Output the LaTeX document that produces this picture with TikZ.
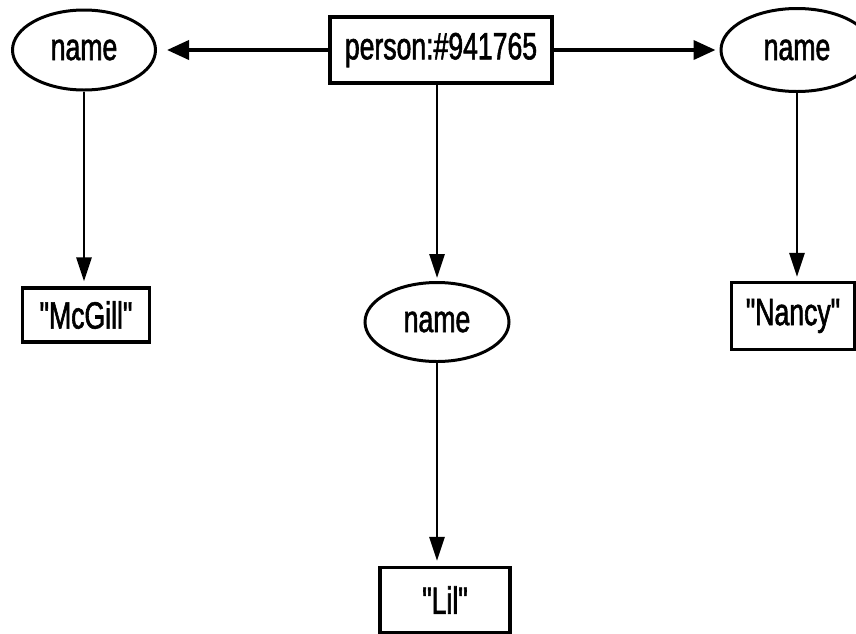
\documentclass[tikz,border=0pt]{standalone}
\usepackage{fontspec}
\usetikzlibrary{shapes.geometric,arrows.meta}
\newfontfamily\labelfont{Liberation Sans}[FakeStretch=0.7,FakeBold=1.5]
\begin{document}
\begin{tikzpicture}[x=1pt,y=-1pt,
  every node/.style={font=\labelfont\fontsize{38}{40}\selectfont, inner sep=0pt},
  valbox/.style={draw, line width=3.2pt, rectangle},
  attr/.style={draw, line width=3pt, ellipse},
  link/.style={line width=2.8pt, -{Triangle[length=24pt,width=15pt]}},
  hlink/.style={line width=3.8pt, -{Triangle[length=22pt,width=19pt]}}]
\useasboundingbox (0,0) rectangle (856,633);
\clip (0,0) rectangle (856,633);

% object node and its attribute ellipses
\node[valbox, minimum width=222pt, minimum height=66pt] (p) at (441,50) {person:\#941765};
\node[attr, minimum width=143pt, minimum height=80pt] (ln) at (84,50) {name};
\node[attr, minimum width=152pt, minimum height=83pt] (rn) at (797,50) {name};
\node[attr, minimum width=144pt, minimum height=79pt] (mn) at (437,322) {name};

% value boxes
\node[valbox, minimum width=127pt, minimum height=54pt] (mcgill) at (86,315) {"McGill"};
\node[valbox, minimum width=123pt, minimum height=67pt] (nancy) at (793,316) {"Nancy"};
\node[valbox, minimum width=130pt, minimum height=65pt] (lil) at (445,600) {"Lil"};

% connectors
\draw[hlink, shorten >=10pt] (p.west) -- (ln.east);
\draw[hlink, shorten >=4pt] (p.east) -- (rn.west);
\draw[link, shorten >=3pt] (p.south -| mn.north) -- (mn.north);
\draw[link, shorten >=5pt] (ln.south) -- (ln.south |- mcgill.north);
\draw[link, shorten >=4pt] (rn.south) -- (rn.south |- nancy.north);
\draw[link, shorten >=5pt] (mn.south) -- (mn.south |- lil.north);
\end{tikzpicture}
\end{document}
